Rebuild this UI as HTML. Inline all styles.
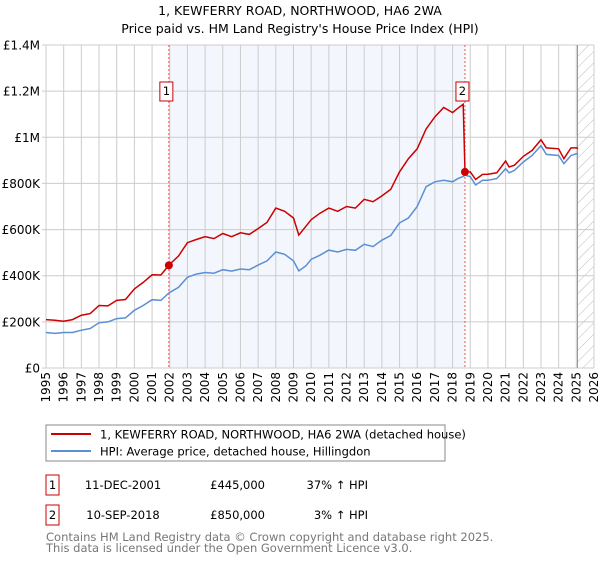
<!DOCTYPE html>
<html><head><meta charset="utf-8"><style>
body{margin:0;background:#fff;width:600px;height:560px;overflow:hidden;font-family:"DejaVu Sans","Liberation Sans",sans-serif;}
svg text{font-family:"DejaVu Sans","Liberation Sans",sans-serif;}
</style></head><body>
<svg id="chart" width="600" height="560" xmlns="http://www.w3.org/2000/svg">
<defs><pattern id="hatch" patternUnits="userSpaceOnUse" width="8" height="8" patternTransform="rotate(45)"><line x1="0" y1="0" x2="0" y2="8" stroke="#bbb" stroke-width="1"/></pattern></defs>
<text x="300" y="15" text-anchor="middle" font-size="12.5" fill="#000">1, KEWFERRY ROAD, NORTHWOOD, HA6 2WA</text>
<text x="300" y="33" text-anchor="middle" font-size="12.5" fill="#000">Price paid vs. HM Land Registry's House Price Index (HPI)</text>
<g id="plot"></g>
<g id="legend">
<rect x="46" y="425" width="399" height="36" fill="#fff" stroke="#888"/>
<line x1="51" y1="434" x2="91" y2="434" stroke="#cc0000" stroke-width="2"/>
<text x="100" y="438.5" font-size="11.5">1, KEWFERRY ROAD, NORTHWOOD, HA6 2WA (detached house)</text>
<line x1="51" y1="451" x2="91" y2="451" stroke="#5b8fd4" stroke-width="2"/>
<text x="100" y="455.5" font-size="11.5">HPI: Average price, detached house, Hillingdon</text>
</g>
<g font-size="11.5">
<rect x="46" y="475" width="13" height="20" fill="#fff" stroke="#cc0000"/>
<text x="52.5" y="489" text-anchor="middle">1</text>
<text x="123" y="489" text-anchor="middle">11-DEC-2001</text>
<text x="265" y="489" text-anchor="end">£445,000</text>
<text x="368" y="489" text-anchor="end">37% ↑ HPI</text>
<rect x="46" y="505" width="13" height="20" fill="#fff" stroke="#cc0000"/>
<text x="52.5" y="519" text-anchor="middle">2</text>
<text x="123" y="519" text-anchor="middle">10-SEP-2018</text>
<text x="265" y="519" text-anchor="end">£850,000</text>
<text x="368" y="519" text-anchor="end">3% ↑ HPI</text>
</g>
<text x="46" y="541" font-size="11.5" fill="#777">Contains HM Land Registry data © Crown copyright and database right 2025.</text>
<text x="46" y="552" font-size="11.5" fill="#777">This data is licensed under the Open Government Licence v3.0.</text>
</svg>
<script>
const dates=[1995,1995.5,1996,1996.5,1997,1997.5,1998,1998.5,1999,1999.5,2000,2000.5,2001,2001.5,2001.95,2002.5,2003,2003.5,2004,2004.5,2005,2005.5,2006,2006.5,2007,2007.5,2008,2008.5,2009,2009.3,2009.7,2010,2010.5,2011,2011.5,2012,2012.5,2013,2013.5,2014,2014.5,2015,2015.5,2016,2016.5,2017,2017.5,2018,2018.3,2018.6,2018.7,2019,2019.3,2019.7,2020,2020.5,2021,2021.2,2021.5,2022,2022.5,2023,2023.3,2024,2024.3,2024.7,2025,2025.1];
const hpiValues=[154,150,154,154,164,171,196,200,214,217,250,271,296,293,325,350,393,407,414,411,426,420,429,426,446,464,503,493,464,421,443,471,489,511,503,514,510,536,526,554,574,629,650,700,786,807,814,807,821,830,836,829,793,814,814,821,864,846,857,893,921,964,926,921,886,921,929,926];
const propValues=[210,207,203,210,229,236,271,269,293,297,343,371,404,403,446,486,543,557,569,561,583,569,586,579,604,631,693,679,650,576,614,643,671,693,679,700,693,731,721,746,774,850,907,950,1036,1089,1129,1107,1126,1143,850,850,817,839,840,846,897,871,879,917,943,989,954,950,907,954,954,951];
const yTicks=[0,200,400,600,800,1000,1200,1400];
const yTickLabels=["£0","£200K","£400K","£600K","£800K","£1M","£1.2M","£1.4M"];
const sales=[{n:"1",date:2001.95,price:445},{n:"2",date:2018.7,price:850}];
const X0=46,X1=594,Y0=368,Y1=45;
const xs=d=>X0+(d-1995)/(2026-1995)*(X1-X0);
const ys=v=>Y0-v/1400*(Y0-Y1);
const NS="http://www.w3.org/2000/svg";
const g=document.getElementById('plot');
function mk(t,a,p){const e=document.createElementNS(NS,t);for(const k in a)e.setAttribute(k,a[k]);(p||g).appendChild(e);return e;}
// shaded region
let sh=mk('rect',{x:xs(sales[0].date),y:Y1,width:xs(sales[1].date)-xs(sales[0].date),height:Y0-Y1,fill:'#eef3fc',opacity:0.7});


let ht=mk('rect',{x:577.5,y:Y1,width:X1-577.5,height:Y0-Y1,fill:'url(#hatch)'});


for(let yr=1995;yr<=2026;yr++){
  const x=xs(yr);
  const gl=mk('line',{x1:x,x2:x,y1:Y1,y2:Y0,stroke:'#ccc','stroke-width':1});
  
  
  const t=mk('text',{x:0,y:0,'font-size':12,'text-anchor':'end',transform:`translate(${x+4},${Y0+4}) rotate(-90)`});
  t.textContent=yr;
  
  
}
yTicks.forEach((v,i)=>{
  const y=ys(v);
  const gl=mk('line',{x1:X0-4,x2:X1,y1:y,y2:y,stroke:'#ccc','stroke-width':1});
  
  
  const t=mk('text',{x:40,y:y+4.5,'font-size':12,'text-anchor':'end'});
  t.textContent=yTickLabels[i];
  
  
});
mk('line',{x1:577.5,x2:577.5,y1:Y1,y2:Y0,stroke:'#999','stroke-width':1});
mk('line',{x1:X0,x2:X0,y1:Y1,y2:Y0,stroke:'#ccc'});
sales.forEach(s=>{
  const l=mk('line',{x1:xs(s.date),x2:xs(s.date),y1:Y1,y2:Y0,stroke:'#e55','stroke-width':1,'stroke-dasharray':'2,2'});
  
  
});
const pts=(vals)=>dates.map((d,i)=>xs(d).toFixed(1)+','+ys(vals[i]).toFixed(1)).join(' ');
const hl=mk('polyline',{points:pts(hpiValues),fill:'none',stroke:'#5b8fd4','stroke-width':1.5});


const pl=mk('polyline',{points:pts(propValues),fill:'none',stroke:'#cc0000','stroke-width':1.5});


sales.forEach(s=>{
  const c=mk('circle',{cx:xs(s.date),cy:ys(s.price),r:4,fill:'#cc0000'});
  
  
  const bx=xs(s.date)-8;
  const r=mk('rect',{x:bx-1,y:82,width:13,height:19,fill:'#fff',stroke:'#cc0000'});
  
  
  const t=mk('text',{x:bx+5.5,y:95,'font-size':11.5,'text-anchor':'middle'});
  t.textContent=s.n;
  
  
});
</script>
</body></html>
